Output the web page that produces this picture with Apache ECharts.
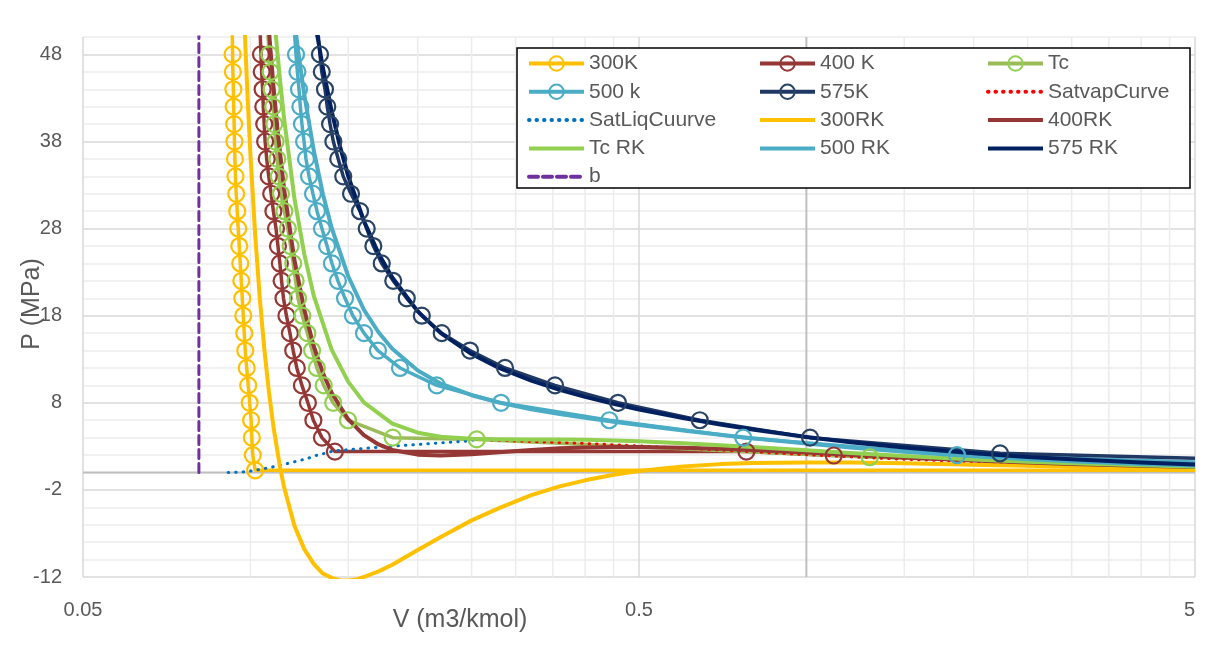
<!DOCTYPE html>
<html><head><meta charset="utf-8">
<script src="https://cdn.jsdelivr.net/npm/echarts@6/dist/echarts.min.js"></script>
<style>html,body{margin:0;padding:0;background:#fff}#c{width:1213px;height:646px}</style>
</head><body><div id="c"></div>
<script>
// ---------- axis definitions ----------
const X_MIN = 0.05, X_MAX = 5;
const Y_MIN = -12, Y_MAX = 50, Y_STEP = 2, Y_LABEL_STEP = 10;
const X_LABELS = [0.05, 0.5, 5];
const X_MAJOR_GRID = [0.05, 0.5, 5];
const X_MINOR_GRID = [0.1,0.15,0.2,0.25,0.3,0.35,0.4,0.45,1.5,2,2.5,3,3.5,4,4.5];
const X_AXIS_CROSS = 1;      // vertical axis crosses at V = 1
const Y_AXIS_CROSS = 0;      // horizontal axis crosses at P = 0

// ---------- data: V (m3/kmol), P (MPa) ----------
// 300K (with markers)
const P_300K = [48,46,44,42,40,38,36,34,32,30,28,26,24,22,20,18,16,14,12,10,8,6,4,2,0.25];
const V_300K = [0.0929,0.0930,0.0932,0.0933,0.0935,0.0936,0.0938,0.0940,0.0943,0.0947,0.0951,0.0955,0.0959,0.0963,0.0967,0.0971,0.0975,0.0979,0.0985,0.0991,0.0997,0.1003,0.1006,0.1010,0.1020];
const TOP_300K = [0.0927, 52], END_300K = [5, 0.25];
// 400 K
const P_400K = [48,46,44,42,40,38,36,34,32,30,28,26,24,22,20,18,16,14,12,10,8,6,4,2.4,2.4,1.95];
const V_400K = [0.1045,0.1048,0.1052,0.1055,0.1059,0.1063,0.1070,0.1079,0.1090,0.1100,0.1112,0.1121,0.1130,0.1138,0.1147,0.1161,0.1178,0.1194,0.1212,0.1238,0.1269,0.1298,0.1345,0.1419,0.78,1.12];
const TOP_400K = [0.1039, 52], END_400K = [5, 0.7];
// Tc
const P_TC = [48,46,44,42,40,38,36,34,32,30,28,26,24,22,20,18,16,14,12,10,8,6,4,3.8,1.75];
const V_TC = [0.1081,0.1087,0.1092,0.1099,0.1104,0.1110,0.1118,0.1125,0.1135,0.1151,0.1168,0.1181,0.1194,0.1206,0.1218,0.1240,0.1266,0.1291,0.1317,0.1355,0.1409,0.1498,0.1803,0.2553,1.30];
const TOP_TC = [0.1071, 52], END_TC = [5, 0.75];
// 500 k
const P_500K = [48,46,44,42,40,38,36,34,32,30,28,26,24,22,20,18,16,14,12,10,8,6,4,2];
const V_500K = [0.1208,0.1215,0.1223,0.1230,0.1238,0.1249,0.1259,0.1275,0.1296,0.1318,0.1345,0.1374,0.1402,0.1437,0.1480,0.1529,0.1601,0.1696,0.1858,0.2164,0.2824,0.4422,0.770,1.866];
const TOP_500K = [0.1196, 52], END_500K = [5, 1.2];
// 575K
const P_575K = [48,46,44,42,40,38,36,34,32,30,28,26,24,22,20,18,16,14,12,10,8,6,4,2.2];
const V_575K = [0.1334,0.1344,0.1362,0.1375,0.1391,0.1410,0.1439,0.1469,0.1517,0.1575,0.1619,0.1664,0.1723,0.1807,0.1911,0.2034,0.2209,0.2483,0.2871,0.3531,0.4584,0.6432,1.0155,2.23];
const TOP_575K = [0.1317, 52], END_575K = [5, 1.62];
// saturation curves
const SAT_VAP = [[0.2553,3.8],[0.30,3.62],[0.40,3.33],[0.50,3.05],[0.60,2.8],[0.80,2.38],[1.0,2.05],[1.4,1.6],[2.0,1.22],[2.5,1.0],[3.5,0.75],[5.0,0.52]];
const SAT_LIQ = [[0.0912,0.0],[0.0945,0.02],[0.0978,0.08],[0.1010,0.2],[0.1041,0.36],[0.1078,0.54],[0.1115,0.73],[0.1154,0.96],[0.1189,1.16],[0.1228,1.39],[0.1268,1.62],[0.1307,1.92],[0.1349,2.14],[0.1391,2.37],[0.1425,2.5],[0.1734,2.95],[0.2450,3.6],[0.2553,3.8]];
// RK isotherms
const RK_300 = [[0.097,55.9],[0.098,48.6],[0.099,42.2],[0.1,36.6],[0.102,27.3],[0.104,19.9],[0.106,14.0],[0.108,9.2],[0.11,5.3],[0.113,0.7],[0.115,-1.7],[0.12,-6.1],[0.125,-8.8],[0.13,-10.5],[0.135,-11.6],[0.14,-12.1],[0.145,-12.4],[0.15,-12.4],[0.155,-12.3],[0.16,-12.0],[0.17,-11.35],[0.18,-10.6],[0.2,-8.9],[0.22,-7.4],[0.25,-5.5],[0.28,-4.1],[0.32,-2.6],[0.36,-1.6],[0.4,-0.9],[0.45,-0.26],[0.5,0.18],[0.6,0.7],[0.7,0.96],[0.8,1.09],[1.0,1.16],[1.2,1.14],[1.5,1.05],[2.0,0.9],[2.5,0.77],[3.0,0.67],[4.0,0.53],[5.0,0.44]];
const RK_400 = [[0.107,54.3],[0.108,50.7],[0.11,44.4],[0.112,39.1],[0.115,32.5],[0.12,24.4],[0.125,18.7],[0.13,14.5],[0.135,11.45],[0.14,9.15],[0.15,6.09],[0.16,4.29],[0.17,3.22],[0.18,2.59],[0.2,2.05],[0.22,1.96],[0.25,2.1],[0.28,2.33],[0.32,2.59],[0.36,2.77],[0.4,2.87],[0.45,2.93],[0.5,2.94],[0.6,2.85],[0.7,2.72],[0.8,2.57],[1.0,2.28],[1.2,2.03],[1.5,1.73],[2.0,1.38],[2.5,1.15],[3.0,0.98],[4.0,0.76],[5.0,0.62]];
const RK_TC = [[0.11,53.6],[0.111,50.5],[0.113,45.2],[0.115,40.6],[0.12,31.5],[0.125,25.1],[0.13,20.3],[0.14,14.1],[0.15,10.4],[0.16,8.05],[0.18,5.62],[0.2,4.57],[0.22,4.11],[0.25,3.86],[0.28,3.81],[0.32,3.8],[0.36,3.79],[0.4,3.75],[0.45,3.68],[0.5,3.58],[0.6,3.36],[0.7,3.13],[0.8,2.92],[1.0,2.54],[1.2,2.24],[1.5,1.9],[2.0,1.5],[2.5,1.24],[3.0,1.06],[4.0,0.82],[5.0,0.66]];
const RK_500 = [[0.119,54.0],[0.12,51.9],[0.122,48.2],[0.125,43.4],[0.13,37.0],[0.135,32.0],[0.14,28.1],[0.15,22.5],[0.16,18.7],[0.17,16.1],[0.18,14.2],[0.2,11.7],[0.22,10.2],[0.25,8.87],[0.28,8.02],[0.32,7.26],[0.36,6.71],[0.4,6.27],[0.45,5.83],[0.5,5.45],[0.6,4.83],[0.7,4.34],[0.8,3.94],[1.0,3.32],[1.2,2.87],[1.5,2.38],[2.0,1.85],[2.5,1.52],[3.0,1.28],[4.0,0.98],[5.0,0.79]];
const RK_575 = [[0.128,55.8],[0.13,52.8],[0.132,50.1],[0.135,46.5],[0.14,41.5],[0.145,37.4],[0.15,34.0],[0.16,28.9],[0.17,25.15],[0.18,22.4],[0.2,18.5],[0.22,16.0],[0.25,13.6],[0.28,12.0],[0.32,10.55],[0.36,9.49],[0.4,8.68],[0.45,7.88],[0.5,7.24],[0.6,6.25],[0.7,5.51],[0.8,4.93],[1.0,4.08],[1.2,3.48],[1.5,2.86],[2.0,2.2],[2.5,1.79],[3.0,1.51],[4.0,1.15],[5.0,0.92]];
// b (co-volume)
const B_LINE = [[0.0808, 0], [0.0808, 52]];

// ---------- build ----------
const FONT = '"Liberation Sans", Arial, sans-serif';
const TXT = '#595959';
const CLEAR = 'rgba(255,255,255,0)';
function zip(V, P){ return V.map((v,i)=>[v, P[i]]); }
function markerData(top, V, P, end){
  return [{value: top, symbol:'none'}].concat(zip(V,P)).concat([{value: end, symbol:'none'}]);
}
function markerSeries(name, data, lineColor, markColor){
  return {name, type:'line', data, z:3, clip:true, symbol:'circle', symbolSize:16, showSymbol:true,
    lineStyle:{color:lineColor, width:3.5},
    itemStyle:{color:CLEAR, borderColor:markColor, borderWidth:2.2}};
}
function plainSeries(name, data, color, width, dash){
  return {name, type:'line', data, z:3, clip:true, symbol:'none', showSymbol:false, smooth:false,
    lineStyle:{color, width, type: dash || 'solid', cap: dash ? 'round' : 'butt', join:'round'},
    itemStyle:{color:CLEAR, borderWidth:0}};
}

const vGrid = [];
X_MINOR_GRID.forEach(v=>vGrid.push({v, s:'minor'}));
X_MAJOR_GRID.forEach(v=>vGrid.push({v, s:'major'}));
const GRID_STYLE = {minor:{stroke:'#ececec', lineWidth:1.5}, major:{stroke:'#d9d9d9', lineWidth:1.5}, axis:{stroke:'#bfbfbf', lineWidth:2}};
const DOT = [0.5, 7];

const series = [
  {type:'custom', z:1, silent:true, data: vGrid.map(o=>[o.v, 0]), encode:{x:0, y:1},
    renderItem(params, api){
      const v = api.value(0);
      const a = api.coord([v, Y_MIN]), b = api.coord([v, Y_MAX]);
      return {type:'line', shape:{x1:a[0], y1:a[1], x2:b[0], y2:b[1]}, style: GRID_STYLE[vGrid[params.dataIndex].s]};
    }},
  {type:'custom', z:2, silent:true, data: [[X_AXIS_CROSS, Y_AXIS_CROSS]], encode:{x:0, y:1},
    renderItem(params, api){
      const a = api.coord([X_MIN, Y_AXIS_CROSS]), b = api.coord([X_MAX, Y_AXIS_CROSS]);
      const c = api.coord([X_AXIS_CROSS, Y_MIN]), d = api.coord([X_AXIS_CROSS, Y_MAX]);
      return {type:'group', children:[
        {type:'line', shape:{x1:a[0], y1:a[1], x2:b[0], y2:b[1]}, style: GRID_STYLE.axis},
        {type:'line', shape:{x1:c[0], y1:c[1], x2:d[0], y2:d[1]}, style: GRID_STYLE.axis}]};
    }},
  markerSeries('300K', markerData(TOP_300K, V_300K, P_300K, END_300K), '#FFC000', '#FFC000'),
  markerSeries('400 K', markerData(TOP_400K, V_400K, P_400K, END_400K), '#953735', '#953735'),
  markerSeries('Tc', markerData(TOP_TC, V_TC, P_TC, END_TC), '#9BBB59', '#92D050'),
  markerSeries('500 k', markerData(TOP_500K, V_500K, P_500K, END_500K), '#4BACC6', '#4BACC6'),
  markerSeries('575K', markerData(TOP_575K, V_575K, P_575K, END_575K), '#1F3864', '#2A4466'),
  plainSeries('SatvapCurve', SAT_VAP, '#FF0000', 3, DOT),
  plainSeries('SatLiqCuurve', SAT_LIQ, '#0070C0', 3, DOT),
  plainSeries('300RK', RK_300, '#FFC000', 4),
  plainSeries('400RK', RK_400, '#953735', 4),
  plainSeries('Tc RK', RK_TC, '#92D050', 4),
  plainSeries('500 RK', RK_500, '#4BACC6', 4),
  plainSeries('575 RK', RK_575, '#002060', 4),
  plainSeries('b', B_LINE, '#7030A0', 3, [9, 5])
];

const legendCommon = {orient:'vertical', padding:0, itemWidth:55, itemHeight:18, itemGap:7.3, selectedMode:false,
  lineStyle:{width:4},
  textStyle:{fontSize:21, color:TXT, fontFamily:FONT, lineHeight:20}};

const option = {
  animation:false,
  backgroundColor:'#fff',
  grid:{left:83, right:18, top:37, bottom:69, containLabel:false},
  xAxis:{type:'log', logBase:10, min:X_MIN, max:X_MAX,
    axisLine:{show:false}, axisTick:{show:false}, splitLine:{show:false}, minorSplitLine:{show:false},
    axisLabel:{customValues:X_LABELS, color:TXT, fontSize:20, fontFamily:FONT, margin:23, alignMaxLabel:'right',
      formatter: v => String(+v.toPrecision(3))}},
  yAxis:{type:'value', min:Y_MIN, max:Y_MAX, interval:Y_STEP,
    axisLine:{show:false}, axisTick:{show:false},
    axisLabel:{color:TXT, fontSize:20, fontFamily:FONT, margin:21,
      formatter: v => (Math.round(v - Y_MIN) % Y_LABEL_STEP === 0) ? String(v) : ''},
    splitLine:{show:true, lineStyle:{color:['#d9d9d9','#ececec','#ececec','#ececec','#ececec'], width:1.5}}},
  legend:[
    Object.assign({left:527, top:53, data:['300K','500 k','SatLiqCuurve','Tc RK','b']}, legendCommon),
    Object.assign({left:758, top:53, data:['400 K','575K','300RK','500 RK']}, legendCommon),
    Object.assign({left:986, top:53, data:['Tc','SatvapCurve','400RK','575 RK']}, legendCommon)
  ],
  graphic:[
    {type:'rect', z:3, shape:{x:517, y:48, width:673, height:140}, style:{fill:'#fff', stroke:'#000', lineWidth:1.5}},
    {type:'text', z:5, x:460, y:620, style:{text:'V (m3/kmol)', fill:TXT, font:'25px ' + FONT, align:'center', verticalAlign:'middle'}},
    {type:'text', z:5, x:32, y:304, rotation:Math.PI/2, style:{text:'P (MPa)', fill:TXT, font:'25px ' + FONT, align:'center', verticalAlign:'middle'}}
  ],
  series
};
const chart = echarts.init(document.getElementById('c'), null, {renderer:'canvas'});
chart.setOption(option);
</script></body></html>
